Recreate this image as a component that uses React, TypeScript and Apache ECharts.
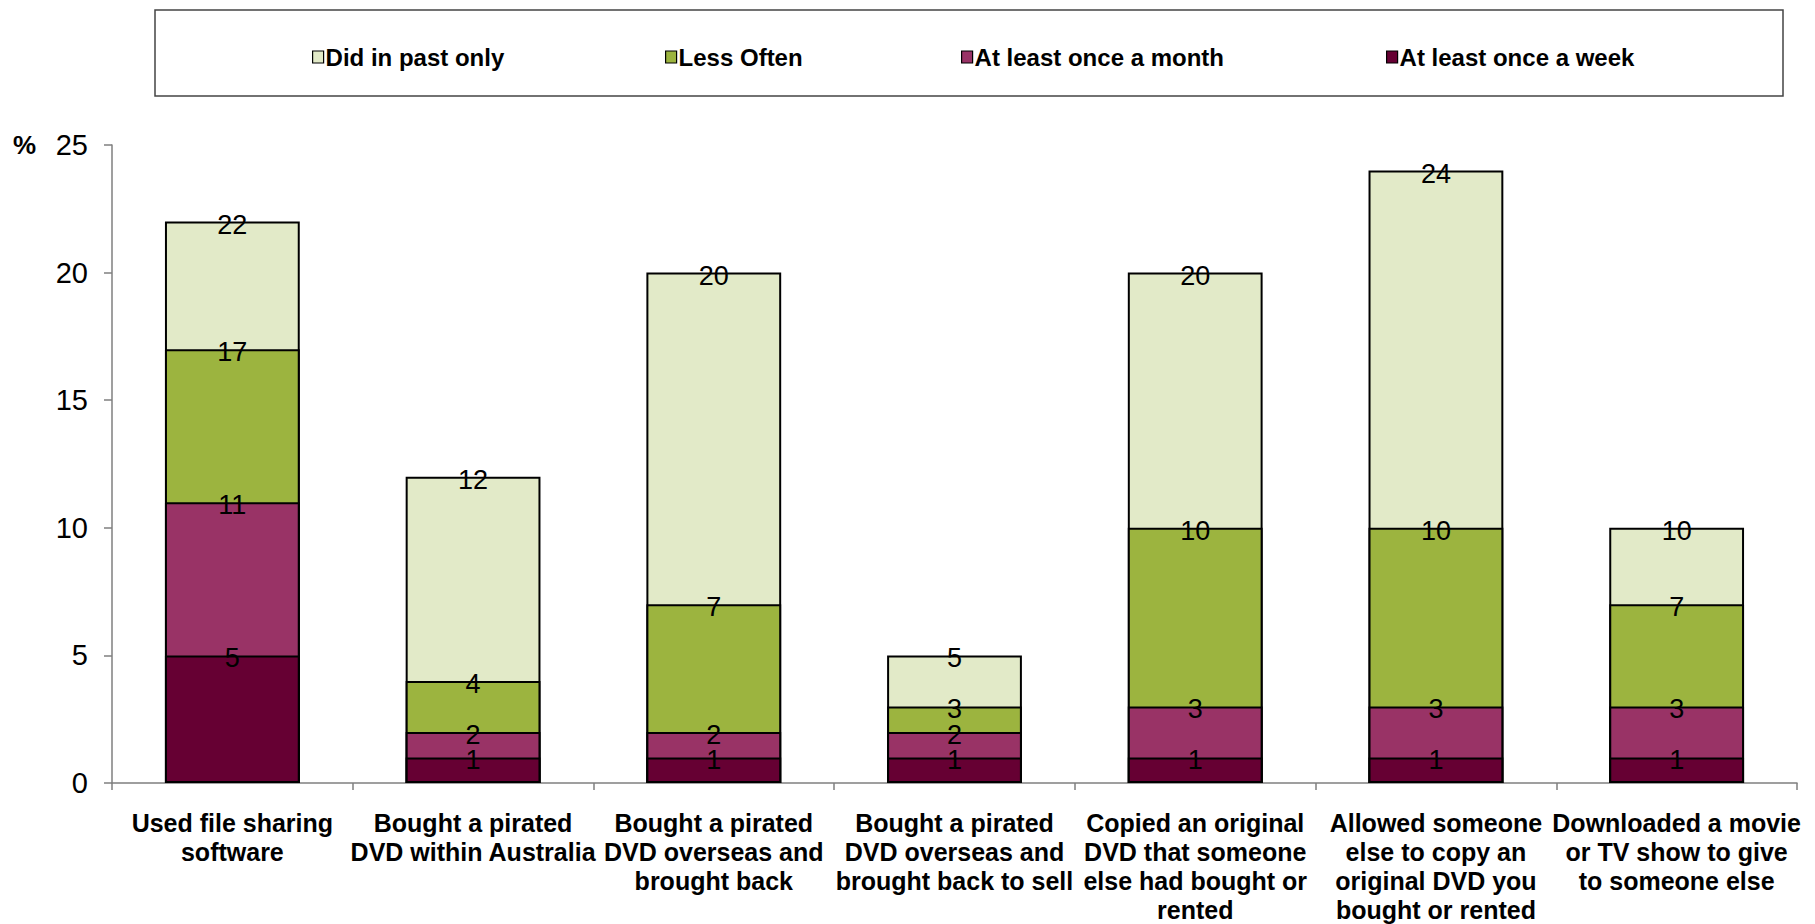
import React, { useEffect, useRef } from "react";
import * as echarts from "echarts";

const categories = [
  "Used file sharing\nsoftware",
  "Bought a pirated\nDVD within Australia",
  "Bought a pirated\nDVD overseas and\nbrought back",
  "Bought a pirated\nDVD overseas and\nbrought back to sell",
  "Copied an original\nDVD that someone\nelse had bought or\nrented",
  "Allowed someone\nelse to copy an\noriginal DVD you\nbought or rented",
  "Downloaded a movie\nor TV show to give\nto someone else",
];

// cumulative percentages (as labelled in the chart)
const pastOnly = [22, 12, 20, 5, 20, 24, 10];
const lessOften = [17, 4, 7, 3, 10, 10, 7];
const onceMonth = [11, 2, 2, 2, 3, 3, 3];
const onceWeek = [5, 1, 1, 1, 1, 1, 1];

const seriesNames = [
  "Did in past only",
  "Less Often",
  "At least once a month",
  "At least once a week",
];
const seriesColors = ["#E2EAC8", "#9CB43F", "#993366", "#660033"];
const yTicks = { min: 0, max: 25, interval: 5 };

const FONT = "'Liberation Sans', Arial, sans-serif";

export default function App() {
  const ref = useRef<HTMLDivElement>(null);
  useEffect(() => {
    document.body.style.margin = "0";
    const chart = echarts.init(ref.current!, undefined, { renderer: "svg" });
    const values = [pastOnly, lessOften, onceMonth, onceWeek];
    const legendLefts = [307, 660, 956, 1381];
    chart.setOption({
      animation: false,
      backgroundColor: "#fff",
      textStyle: { fontFamily: FONT },
      graphic: [
        {
          type: "rect",
          shape: { x: 155, y: 10, width: 1628, height: 86 },
          style: { fill: "none", stroke: "#444", lineWidth: 1.5 },
          silent: true,
        },
        {
          type: "text",
          left: 13,
          top: 132,
          style: {
            text: "%",
            font: `bold 26px ${FONT}`,
            fill: "#000",
          },
        },
      ],
      legend: seriesNames.map((n, i) => ({
        data: [n],
        left: legendLefts[i],
        top: 40,
        itemWidth: 11,
        itemHeight: 12,
        icon: "rect",
        selectedMode: false,
        itemStyle: { borderColor: "#000", borderWidth: 1.2 },
        textStyle: {
          fontFamily: FONT,
          fontWeight: "bold",
          fontSize: 24,
          color: "#000",
          padding: [0, 0, 0, -3],
        },
      })),
      grid: { left: 112, right: 18, top: 145, bottom: 136 },
      xAxis: {
        type: "category",
        data: categories,
        axisLine: { lineStyle: { color: "#7f7f7f", width: 1.5 } },
        axisTick: { show: true, length: 7, lineStyle: { color: "#7f7f7f", width: 1.5 } },
        axisLabel: {
          interval: 0,
          margin: 25,
          fontFamily: FONT,
          fontWeight: "bold",
          fontSize: 25,
          lineHeight: 29,
          color: "#000",
        },
      },
      yAxis: {
        type: "value",
        min: yTicks.min,
        max: yTicks.max,
        interval: yTicks.interval,
        splitLine: { show: false },
        axisLine: { show: true, lineStyle: { color: "#7f7f7f", width: 1.5 } },
        axisTick: { show: true, length: 8, lineStyle: { color: "#7f7f7f", width: 1.5 } },
        axisLabel: {
          margin: 24,
          fontFamily: FONT,
          fontSize: 29,
          color: "#000",
        },
      },
      series: seriesNames.map((n, i) => ({
        name: n,
        type: "bar",
        data: values[i],
        barWidth: "56%",
        barGap: "-100%",
        itemStyle: { color: seriesColors[i], borderColor: "#000", borderWidth: 2 },
        label: {
          show: true,
          position: ["50%", 0],
          align: "center",
          verticalAlign: "middle",
          offset: [0, 3],
          fontFamily: FONT,
          fontSize: 27,
          color: "#000",
        },
      })),
    });
    return () => chart.dispose();
  }, []);
  return (
    <div
      ref={ref}
      style={{ position: "absolute", left: 0, top: 0, width: 1815, height: 924 }}
    />
  );
}
